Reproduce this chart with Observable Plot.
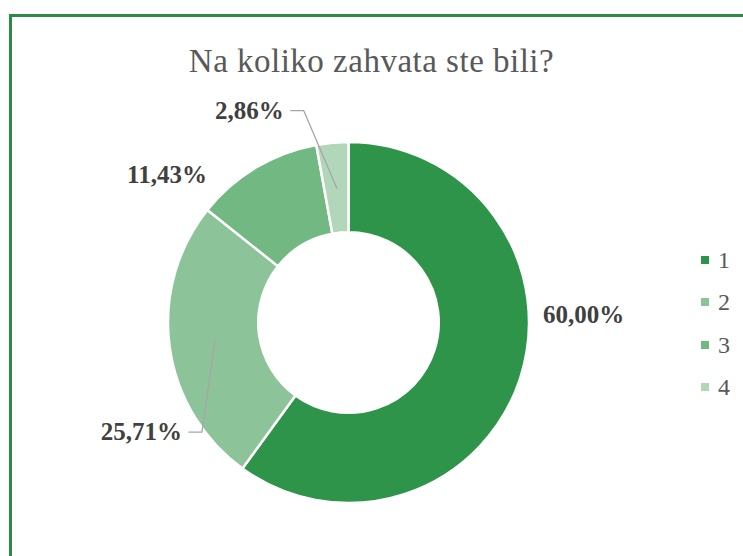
<!DOCTYPE html>
<html>
<head>
<meta charset="utf-8">
<script src="https://cdn.jsdelivr.net/npm/d3@7"></script>
<script src="https://cdn.jsdelivr.net/npm/@observablehq/plot@0.6"></script>
<style>
  html, body { margin: 0; padding: 0; background: #fff; }
  #page { position: relative; width: 743px; height: 556px; overflow: hidden;
          font-family: "Liberation Serif", "Times New Roman", serif; }
  .frame-top { position: absolute; left: 9px; top: 14px; right: 0; height: 3px; background: #2e8b47; }
  .frame-left { position: absolute; left: 9px; top: 14px; bottom: 0; width: 3px; background: #2e8b47; }
  #title { position: absolute; left: 0; top: 45px; width: 743px; text-align: center;
           font-size: 33px; line-height: 33px; letter-spacing: 0.5px; color: #595959; }
  #chart { position: absolute; left: 0; top: 0; }
  #legend { position: absolute; left: 701px; top: 239px; }
  .item { display: flex; align-items: center; height: 42.3px; }
  .sw { width: 8px; height: 8px; margin-right: 9px; }
  .lab { font-size: 24px; line-height: 24px; color: #595959; }
</style>
</head>
<body>
<div id="page">
  <div class="frame-top"></div>
  <div class="frame-left"></div>
  <div id="title">Na koliko zahvata ste bili?</div>
  <div id="chart"></div>
  <div id="legend"></div>
</div>
<script>
// ---- data ----
const title = "Na koliko zahvata ste bili?";
const categories = ["1", "2", "3", "4"];
const counts = [21, 9, 4, 1];          // 60,00% · 25,71% · 11,43% · 2,86%
const colors = ["#2e9449", "#8dc398", "#72b883", "#b2d6ba"];
const leaderCategories = ["2", "4"];   // labels drawn with leader lines

// ---- derived ----
const total = d3.sum(counts);
const rows = categories.map((cat, i) => ({cat, count: counts[i], share: counts[i] / total}));
const fmt = v => (v * 100).toFixed(2).replace(".", ",") + "%";
const colorScale = d3.scaleOrdinal(categories, colors);
const holeRatio = 0.5;
const Rpx = 180.5;
const labelFont = 25;
const arcs = d3.pie().sort(null).value(d => d.count)(rows);

// label placement rule (data units, radius 1 = outer edge)
const labelRadius = 1.3;
const labelRotate = -20 * Math.PI / 180;
const ctx = document.createElement("canvas").getContext("2d");
ctx.font = `bold ${labelFont}px "Liberation Serif"`;

const labels = arcs.map(a => {
  const mid = (a.startAngle + a.endAngle) / 2;
  const ang = mid + labelRotate;
  return {
    cat: a.data.cat, mid,
    text: fmt(a.data.share),
    x: labelRadius * Math.sin(ang),
    y: labelRadius * Math.cos(ang),
    w: ctx.measureText(fmt(a.data.share)).width
  };
});

const leaders = [];
labels.filter(l => leaderCategories.includes(l.cat)).forEach(l => {
  const rr = (1 + holeRatio) / 2;
  const side = l.x < 0 ? 1 : -1;
  const endX = l.x + side * (l.w / 2 + 7) / Rpx;
  const bendX = endX + side * 13 / Rpx;
  leaders.push({cat: l.cat, x: endX, y: l.y});
  leaders.push({cat: l.cat, x: bendX, y: l.y});
  leaders.push({cat: l.cat, x: rr * Math.sin(l.mid), y: rr * Math.cos(l.mid)});
});

function donut(...args) {
  const s = args.find(a => a && typeof a.x === "function" && typeof a.y === "function");
  const cx = s.x(0), cy = s.y(0);
  const R = s.x(1) - s.x(0);
  const col = s.color || colorScale;
  const arc = d3.arc().innerRadius(R * holeRatio).outerRadius(R);
  const g = d3.create("svg:g").attr("transform", `translate(${cx},${cy})`);
  g.selectAll("path").data(arcs).join("path")
    .attr("d", arc)
    .attr("fill", d => col(d.data.cat))
    .attr("stroke", "#ffffff")
    .attr("stroke-width", 2.5)
    .attr("stroke-linejoin", "round");
  return g.node();
}

const chart = Plot.plot({
  width: 743,
  height: 556,
  marginLeft: 168, marginRight: 214, marginTop: 142, marginBottom: 53,
  x: {domain: [-1, 1], axis: null},
  y: {domain: [-1, 1], axis: null},
  color: {domain: categories, range: colors},
  style: {background: "transparent", overflow: "visible"},
  marks: [
    donut,
    Plot.line(leaders, {x: "x", y: "y", z: "cat", stroke: "#a6a6a6", strokeWidth: 1.3}),
    Plot.text(labels, {x: "x", y: "y", text: "text", fontSize: labelFont, fontWeight: "bold",
      fill: "#404040", fontFamily: '"Liberation Serif", serif'})
  ]
});
document.getElementById("chart").appendChild(chart);

// legend
const legend = d3.select("#legend");
categories.forEach(cat => {
  const it = legend.append("div").attr("class", "item");
  it.append("div").attr("class", "sw").style("background", colorScale(cat));
  it.append("div").attr("class", "lab").text(cat);
});
document.getElementById("title").textContent = title;
</script>
</body>
</html>
